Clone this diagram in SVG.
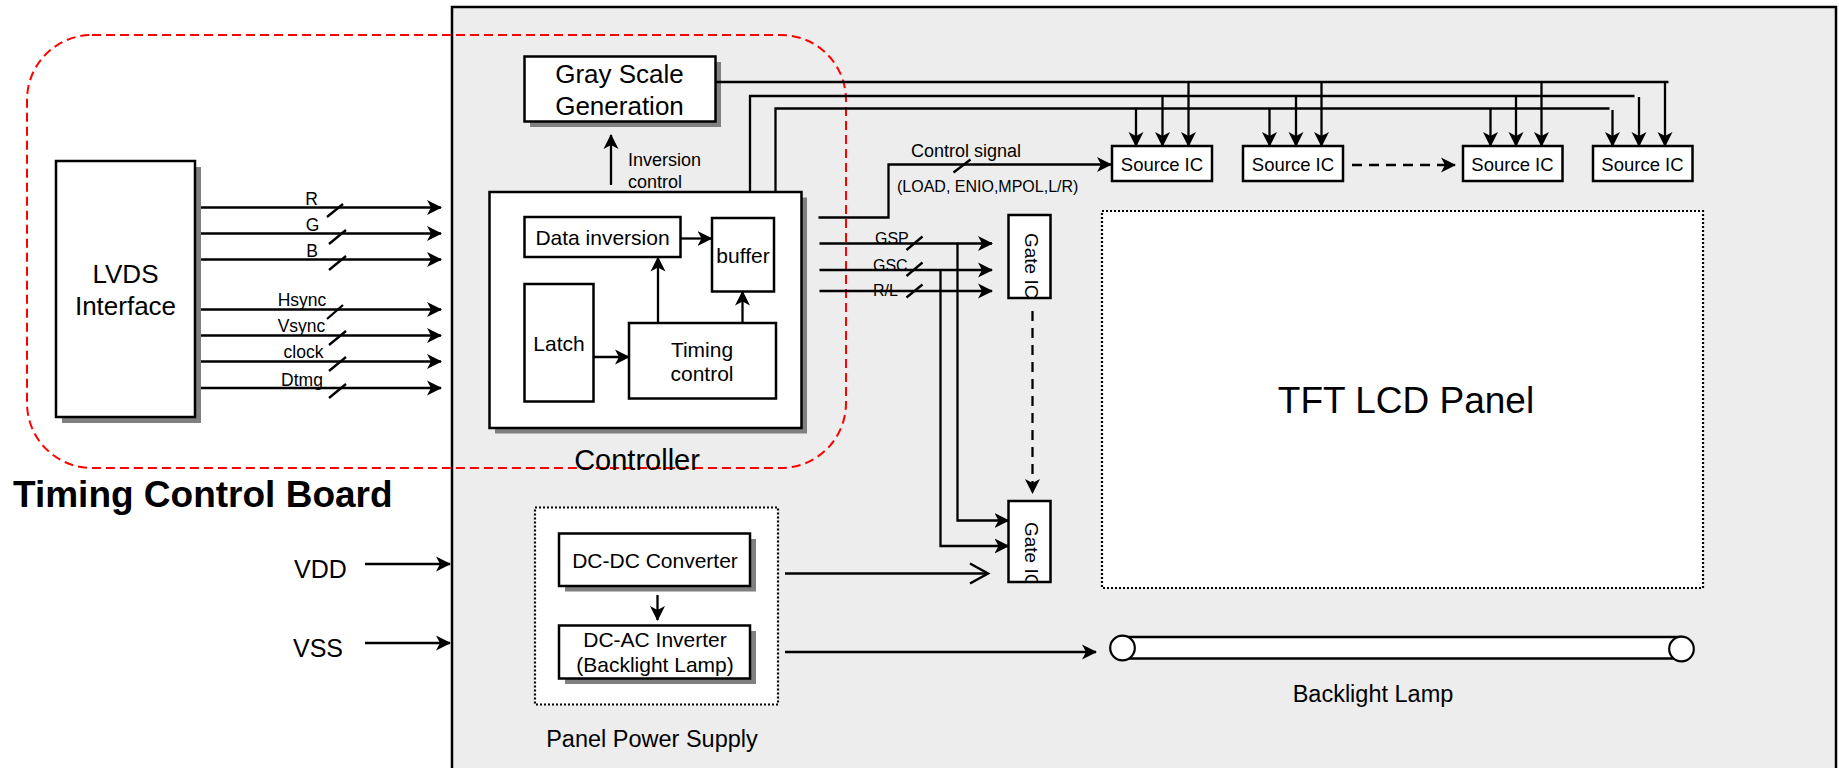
<svg xmlns="http://www.w3.org/2000/svg" width="1839" height="768" viewBox="0 0 1839 768">
<style>
.t{font-family:"Liberation Sans",Arial,sans-serif;fill:#000}
.box{fill:#fff;stroke:#000;stroke-width:2.5}
.sh{fill:#808080}
.ln{fill:none;stroke:#000;stroke-width:2.3}
.sl{fill:none;stroke:#000;stroke-width:2.3}
.dash{fill:none;stroke:#000;stroke-width:2.3;stroke-dasharray:10 7}
.dot{fill:#fff;stroke:#000;stroke-width:2.2;stroke-dasharray:2 2}
</style>
<defs>
<marker id="arr" markerUnits="userSpaceOnUse" markerWidth="16" markerHeight="16" viewBox="0 0 16 16" refX="14" refY="8" orient="auto"><path d="M0,0.5 L15,8 L0,15.5 L4,8 Z" fill="#000" stroke="none"/></marker>
<marker id="open" markerUnits="userSpaceOnUse" markerWidth="22" markerHeight="24" viewBox="0 0 22 24" refX="19" refY="12" orient="auto"><path d="M1,2 L19,12 L1,22" fill="none" stroke="#000" stroke-width="2.5"/></marker>
<clipPath id="g1c"><rect x="1008" y="215" width="43" height="83"/></clipPath>
<clipPath id="g2c"><rect x="1008" y="501" width="43" height="81"/></clipPath>
</defs>

<g id="board">
<rect x="452" y="7" width="1384" height="790" fill="#ededed" stroke="#000" stroke-width="2.5"/>
</g>

<g id="timing-control-board">
<rect x="27" y="35" width="819" height="433" rx="65" ry="65" fill="none" stroke="#ff0000" stroke-width="2" stroke-dasharray="9 5"/>
<text class="t" x="13" y="507" font-size="37" font-weight="bold">Timing Control Board</text>
</g>

<g id="lvds">
<rect class="sh" x="62" y="167" width="139" height="256"/>
<rect class="box" x="56" y="161" width="139" height="256"/>
<text class="t" x="125.5" y="283" font-size="26" text-anchor="middle">LVDS</text>
<text class="t" x="125.5" y="315" font-size="26" text-anchor="middle">Interface</text>
</g>

<g id="controller">
<rect class="sh" x="495" y="197.5" width="312" height="236"/>
<rect class="box" x="489.5" y="192" width="312" height="236"/>
<text class="t" x="637" y="470" font-size="29" text-anchor="middle">Controller</text>
</g>

<g id="data-inversion">
<rect class="box" x="524.5" y="217" width="156" height="40"/>
<text class="t" x="602.5" y="245" font-size="21" text-anchor="middle">Data inversion</text>
</g>
<g id="buffer">
<rect class="box" x="712" y="218" width="62" height="73.5"/>
<text class="t" x="743" y="263" font-size="21" text-anchor="middle">buffer</text>
</g>
<g id="latch">
<rect class="box" x="524.5" y="284" width="69" height="117.5"/>
<text class="t" x="559" y="351" font-size="21" text-anchor="middle">Latch</text>
</g>
<g id="timing-control">
<rect class="box" x="629" y="323" width="147" height="75.5"/>
<text class="t" x="702" y="357" font-size="21" text-anchor="middle">Timing</text>
<text class="t" x="702" y="381" font-size="21" text-anchor="middle">control</text>
</g>

<g id="gray-scale">
<rect class="sh" x="530" y="62" width="191" height="65"/>
<rect class="box" x="524.5" y="56.5" width="191" height="65"/>
<text class="t" x="619.5" y="83" font-size="26" text-anchor="middle">Gray Scale</text>
<text class="t" x="619.5" y="115" font-size="26" text-anchor="middle">Generation</text>
</g>

<g id="source-ic-1">
<rect class="box" x="1112" y="146" width="100" height="35"/>
<text class="t" x="1162" y="171" font-size="18.5" text-anchor="middle">Source IC</text>
</g>
<g id="source-ic-2">
<rect class="box" x="1243" y="146" width="100" height="35"/>
<text class="t" x="1293" y="171" font-size="18.5" text-anchor="middle">Source IC</text>
</g>
<g id="source-ic-3">
<rect class="box" x="1463" y="146" width="99.5" height="35"/>
<text class="t" x="1512.5" y="171" font-size="18.5" text-anchor="middle">Source IC</text>
</g>
<g id="source-ic-4">
<rect class="box" x="1593" y="146" width="99.5" height="35"/>
<text class="t" x="1642.5" y="171" font-size="18.5" text-anchor="middle">Source IC</text>
</g>

<g id="gate-ic-1">
<rect class="box" x="1008.5" y="215" width="42" height="83"/>
<g clip-path="url(#g1c)"><text class="t" transform="translate(1025,233) rotate(90)" font-size="19">Gate IC</text></g>
</g>
<g id="gate-ic-2">
<rect class="box" x="1008.5" y="501" width="42" height="81"/>
<g clip-path="url(#g2c)"><text class="t" transform="translate(1025,522) rotate(90)" font-size="19">Gate IC</text></g>
</g>

<g id="tft-lcd-panel">
<rect class="dot" x="1102" y="211" width="601" height="377"/>
<text class="t" x="1406" y="413" font-size="37" text-anchor="middle">TFT LCD Panel</text>
</g>

<g id="panel-power-supply">
<rect class="dot" x="535" y="507.5" width="243" height="197"/>
<text class="t" x="652" y="747" font-size="23.5" text-anchor="middle">Panel Power Supply</text>
</g>
<g id="dc-dc">
<rect class="sh" x="565" y="539" width="191" height="52.5"/>
<rect class="box" x="559" y="533.5" width="191" height="52.5"/>
<text class="t" x="655" y="568" font-size="21" text-anchor="middle">DC-DC Converter</text>
</g>
<g id="dc-ac">
<rect class="sh" x="565" y="631" width="191" height="53"/>
<rect class="box" x="559" y="625.5" width="191" height="53"/>
<text class="t" x="655" y="647" font-size="21" text-anchor="middle">DC-AC Inverter</text>
<text class="t" x="655" y="672" font-size="21" text-anchor="middle">(Backlight Lamp)</text>
</g>

<g id="backlight-lamp">
<rect x="1122" y="637" width="560" height="21.5" fill="#fff"/>
<line class="ln" x1="1122" y1="637" x2="1682" y2="637"/>
<line class="ln" x1="1122" y1="658.5" x2="1682" y2="658.5"/>
<circle cx="1122.5" cy="648" r="12.3" fill="#fff" stroke="#000" stroke-width="2.2"/>
<circle cx="1681.5" cy="649" r="12.3" fill="#fff" stroke="#000" stroke-width="2.2"/>
<text class="t" x="1373" y="702" font-size="23.5" text-anchor="middle">Backlight Lamp</text>
</g>

<g id="vdd-vss">
<text class="t" x="294" y="578" font-size="25">VDD</text>
<text class="t" x="293" y="657" font-size="25">VSS</text>
</g>

<g id="connectors">
<line class="ln" x1="201" y1="207.5" x2="441" y2="207.5" marker-end="url(#arr)"/>
<line class="ln" x1="201" y1="233.5" x2="441" y2="233.5" marker-end="url(#arr)"/>
<line class="ln" x1="201" y1="259.5" x2="441" y2="259.5" marker-end="url(#arr)"/>
<line class="ln" x1="201" y1="309.5" x2="441" y2="309.5" marker-end="url(#arr)"/>
<line class="ln" x1="201" y1="335.5" x2="441" y2="335.5" marker-end="url(#arr)"/>
<line class="ln" x1="201" y1="361.5" x2="441" y2="361.5" marker-end="url(#arr)"/>
<line class="ln" x1="201" y1="388" x2="441" y2="388" marker-end="url(#arr)"/>
<path class="sl" d="M327,217 L343,204 M329,244 L346,230 M329,270 L346,256 M327,319 L343,305 M329,345 L346,331 M329,371 L346,357 M329,398 L346,384"/>
<text class="t" x="311.5" y="205" font-size="17.5" text-anchor="middle">R</text>
<text class="t" x="312.5" y="231" font-size="17.5" text-anchor="middle">G</text>
<text class="t" x="312" y="257" font-size="17.5" text-anchor="middle">B</text>
<text class="t" x="302" y="306" font-size="17.5" text-anchor="middle">Hsync</text>
<text class="t" x="301.5" y="332" font-size="17.5" text-anchor="middle">Vsync</text>
<text class="t" x="303.5" y="358" font-size="17.5" text-anchor="middle">clock</text>
<text class="t" x="302" y="386" font-size="17.5" text-anchor="middle">Dtmg</text>

<line class="ln" x1="365" y1="564" x2="450" y2="564" marker-end="url(#arr)"/>
<line class="ln" x1="365" y1="643" x2="450" y2="643" marker-end="url(#arr)"/>

<line class="ln" x1="680.5" y1="238.5" x2="711.5" y2="238.5" marker-end="url(#arr)"/>
<line class="ln" x1="658" y1="323" x2="658" y2="257.5" marker-end="url(#arr)"/>
<line class="ln" x1="742.5" y1="323" x2="742.5" y2="291.5" marker-end="url(#arr)"/>
<line class="ln" x1="593.5" y1="357" x2="629" y2="357" marker-end="url(#arr)"/>

<line class="ln" x1="611" y1="185" x2="611" y2="135" marker-end="url(#arr)"/>
<text class="t" x="628" y="166" font-size="18">Inversion</text>
<text class="t" x="628" y="188" font-size="18">control</text>

<polyline class="ln" points="715.5,82 1668.5,82"/>
<polyline class="ln" points="750,192 750,96 1634.5,96"/>
<polyline class="ln" points="775.5,192 775.5,108.5 1609.5,108.5"/>
<line class="ln" x1="1136" y1="108.5" x2="1136" y2="146" marker-end="url(#arr)"/>
<line class="ln" x1="1162.5" y1="96" x2="1162.5" y2="146" marker-end="url(#arr)"/>
<line class="ln" x1="1188.5" y1="82" x2="1188.5" y2="146" marker-end="url(#arr)"/>
<line class="ln" x1="1269.5" y1="108.5" x2="1269.5" y2="146" marker-end="url(#arr)"/>
<line class="ln" x1="1296" y1="96" x2="1296" y2="146" marker-end="url(#arr)"/>
<line class="ln" x1="1321.5" y1="82" x2="1321.5" y2="146" marker-end="url(#arr)"/>
<line class="ln" x1="1490.5" y1="108.5" x2="1490.5" y2="146" marker-end="url(#arr)"/>
<line class="ln" x1="1516" y1="96" x2="1516" y2="146" marker-end="url(#arr)"/>
<line class="ln" x1="1541.5" y1="82" x2="1541.5" y2="146" marker-end="url(#arr)"/>
<line class="ln" x1="1612.5" y1="110" x2="1612.5" y2="146" marker-end="url(#arr)"/>
<line class="ln" x1="1639" y1="97" x2="1639" y2="146" marker-end="url(#arr)"/>
<line class="ln" x1="1665" y1="82" x2="1665" y2="146" marker-end="url(#arr)"/>

<line class="dash" x1="1352" y1="165" x2="1455" y2="165" marker-end="url(#arr)"/>

<polyline class="ln" points="818.5,217.5 888.5,217.5 888.5,164.5 1111,164.5" marker-end="url(#arr)"/>
<path class="sl" d="M953.5,172.5 L970.5,159.5"/>
<text class="t" x="911" y="157" font-size="18">Control signal</text>
<text class="t" x="897" y="192" font-size="16">(LOAD, ENIO,MPOL,L/R)</text>

<line class="ln" x1="819.5" y1="243.5" x2="992" y2="243.5" marker-end="url(#arr)"/>
<line class="ln" x1="819.5" y1="270" x2="992" y2="270" marker-end="url(#arr)"/>
<line class="ln" x1="819.5" y1="291" x2="992" y2="291" marker-end="url(#arr)"/>
<path class="sl" d="M906.5,250 L922.5,236.5 M906.5,276 L922.5,262.5 M906.5,297.5 L922.5,284.5"/>
<text class="t" x="875" y="244" font-size="16">GSP</text>
<text class="t" x="873" y="271" font-size="16">GSC</text>
<text class="t" x="873" y="295.5" font-size="16">R/L</text>
<polyline class="ln" points="957.5,243.5 957.5,520.5 1008.5,520.5" marker-end="url(#arr)"/>
<polyline class="ln" points="940.5,270 940.5,546 1008.5,546" marker-end="url(#arr)"/>
<line class="dash" x1="1032.5" y1="311" x2="1032.5" y2="493" marker-end="url(#arr)"/>

<line class="ln" x1="785" y1="573.5" x2="988" y2="573.5" marker-end="url(#open)"/>
<line class="ln" x1="785" y1="652" x2="1096" y2="652" marker-end="url(#arr)"/>
<line class="ln" x1="657.5" y1="595" x2="657.5" y2="620" marker-end="url(#arr)"/>
</g>
</svg>
